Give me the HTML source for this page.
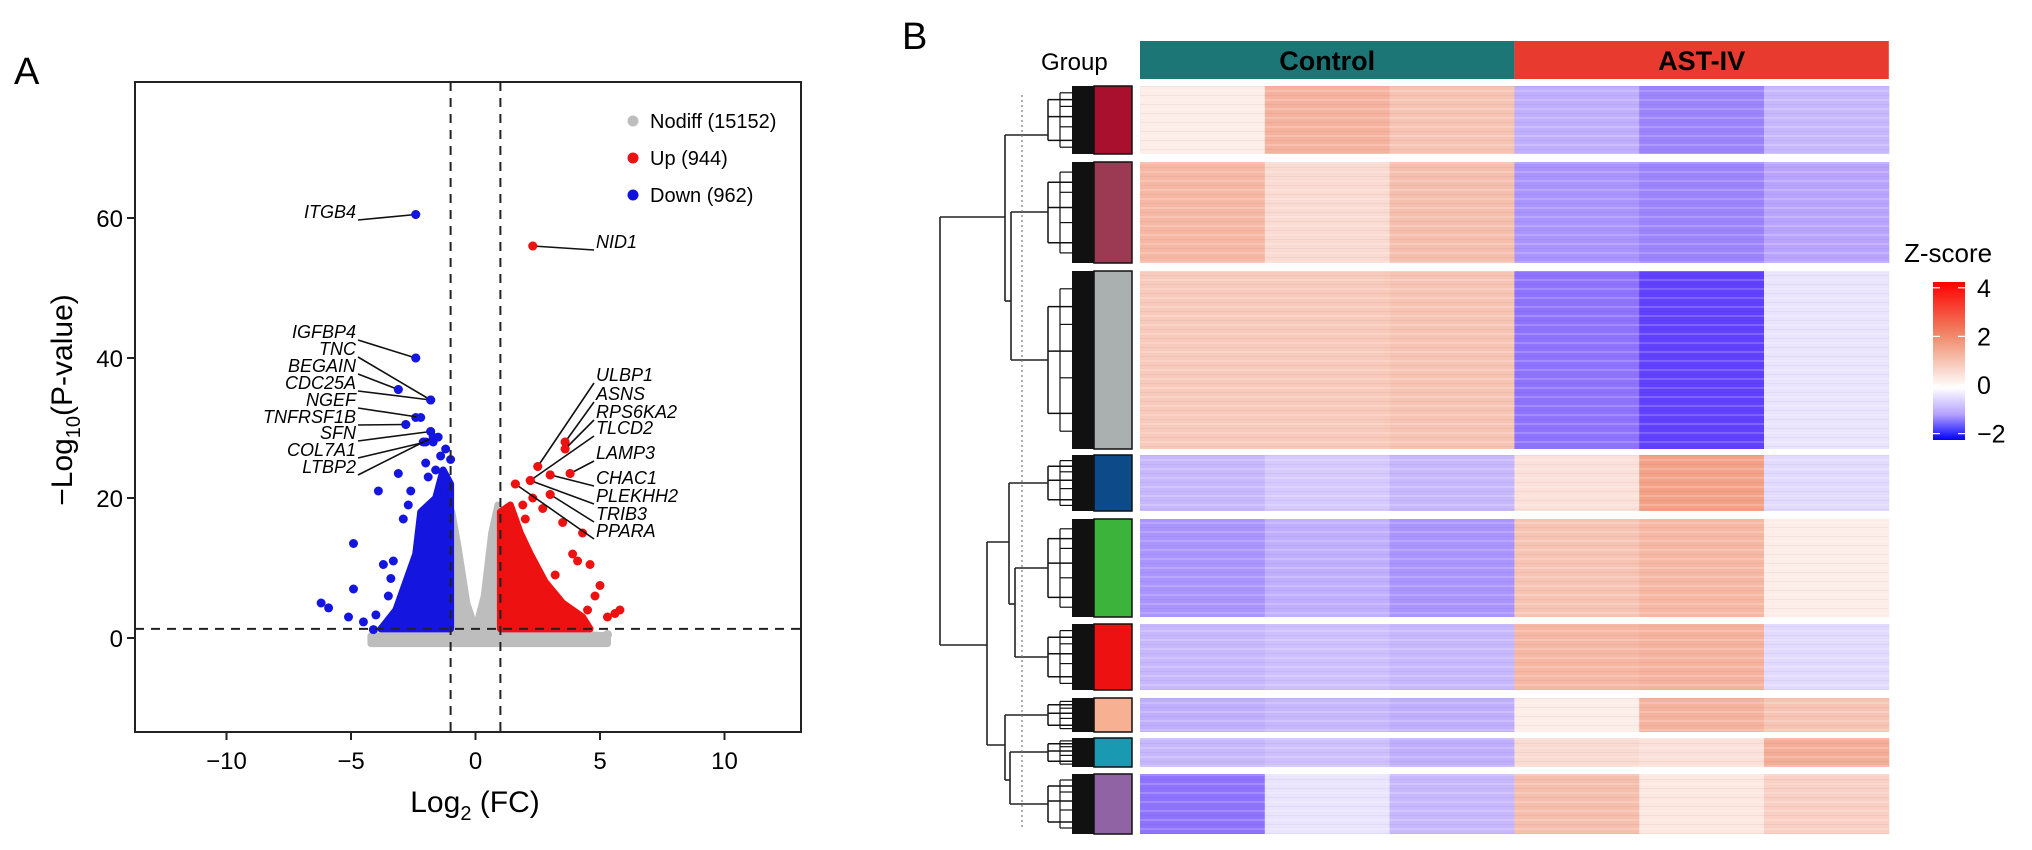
<!DOCTYPE html>
<html><head><meta charset="utf-8">
<style>
html,body{margin:0;padding:0;background:#fff;}
svg{display:block;font-family:"Liberation Sans",sans-serif;}
</style></head>
<body>
<svg id="fig" width="2032" height="850" viewBox="0 0 2032 850" xmlns="http://www.w3.org/2000/svg">
<defs>
<linearGradient id="zgrad" x1="0" y1="1" x2="0" y2="0">
<stop offset="0" stop-color="#0000ff"/><stop offset="0.16" stop-color="#b4a0ff"/><stop offset="0.33" stop-color="#ffffff"/><stop offset="0.66" stop-color="#f08a6a"/><stop offset="1" stop-color="#ff0000"/>
</linearGradient>
<pattern id="stripes" width="4" height="9" patternUnits="userSpaceOnUse"><rect x="0" y="0" width="4" height="2" fill="#fff" opacity="0.18"/><rect x="0" y="5" width="4" height="1" fill="#000" opacity="0.04"/></pattern>
</defs>
<g id="panelA"></g>
<g id="panelB"></g>
</svg>
<script>
// ---------- Volcano data ----------
const xTicks = [-10, -5, 0, 5, 10];
const yTicks = [0, 20, 40, 60];
const grayCloud = [[-4.2,0.3],[-1.0,0.3],[-0.95,18],[-0.7,13],[-0.35,5],[0,1.2],[0.35,6],[0.65,15],[0.9,19],[1.0,1.3],[5.3,0.3],[5.3,-0.8],[-4.2,-0.8]];
const blueCloud = [[-1.0,1.3],[-1.0,22],[-1.3,24],[-1.6,20],[-2.2,18],[-2.4,12],[-2.8,8],[-3.2,4],[-3.8,1.3]];
const redCloud = [[1.0,1.3],[1.0,18],[1.4,19],[1.8,15],[2.2,12],[2.8,8],[3.5,5],[4.3,3],[4.6,1.3]];
const blueX = [-6.2,-5.9,-4.9,-5.1,-4.9,-4.5,-4.0,-4.1,-3.9,-3.7,-3.4,-3.1,-2.9,-3.5,-2.6,-2.4,-3.1,-1.8,-2.4,-2.8,-1.8,-1.7,-2.1,-1.5,-1.0,-2.4,-1.6,-2.0,-2.7,-3.3,-1.2,-1.4,-1.9];
const blueY = [5,4.3,13.5,3,7,2.3,3.3,1.2,21,10.5,8.5,23.5,17,6,21,40,35.5,34,31.5,30.5,29.5,28,28,28.7,25.5,60.5,24,25,19,11,27,26,23];
const redX = [2.3,1.6,2.2,2.5,3.6,3.6,3.0,3.8,3.0,2.7,3.5,4.3,4.1,4.6,5.0,5.8,5.6,5.3,4.5,3.9,1.9,2.3,3.2,4.8,2.0];
const redY = [56,22,22.5,24.5,28,27,23.3,23.5,20.5,18.5,16.5,15,11,10.5,7.5,4,3.5,3,4,12,19,20,9,6,17];
const leftGenes = ["IGFBP4","TNC","BEGAIN","CDC25A","NGEF","TNFRSF1B","SFN","COL7A1","LTBP2"];
const leftGeneX = [-2.4,-1.8,-3.1,-1.8,-2.2,-2.8,-1.8,-2.0,-1.7];
const leftGeneY = [40,34,35.5,34,31.5,30.5,29.5,28,28.7];
const rightGenes = ["ULBP1","ASNS","RPS6KA2","TLCD2","LAMP3","CHAC1","PLEKHH2","TRIB3","PPARA"];
const rightGeneX = [2.5,3.6,3.6,2.2,3.8,3.0,2.2,3.0,1.6];
const rightGeneY = [24.5,28,27,22.5,23.5,23.3,22.5,20.5,22];
const legendLabels = ["Nodiff (15152)","Up (944)","Down (962)"];
const legendColors = ["#bdbdbd","#ee1111","#1111dd"];

// ---------- Heatmap data ----------
const columns = ["C1","C2","C3","A1","A2","A3"];
const groups = ["Control","AST-IV"];
const clusterColors = ["#a8102e","#9b3a52","#aab0b0","#0c4a8a","#3cb43c","#ee1111","#f8b092","#1a9ab2","#9064a4"];
const clusterZ = [
 [0.3,1.3,1.0,-0.9,-1.2,-0.8],
 [1.2,0.6,1.1,-1.1,-1.2,-1.0],
 [0.9,0.9,1.0,-1.3,-1.6,-0.3],
 [-0.8,-0.6,-0.8,0.5,1.6,-0.4],
 [-1.1,-0.9,-1.1,1.0,1.2,0.3],
 [-0.8,-0.7,-0.8,1.2,1.3,-0.4],
 [-0.9,-0.8,-0.9,0.3,1.3,1.0],
 [-0.8,-0.7,-0.9,0.6,0.5,1.4],
 [-1.3,-0.3,-0.8,1.1,0.4,0.8]];
const zTicks = [4,2,0,-2];

const NS="http://www.w3.org/2000/svg";
function mk(parent,tag,attrs,text){const e=document.createElementNS(NS,tag);for(const k in attrs)e.setAttribute(k,attrs[k]);if(text!==undefined)e.textContent=text;parent.appendChild(e);return e;}

// ---------- Panel A ----------
const A=document.getElementById('panelA');
const X=v=>475.5+24.9*v, Y=v=>638-7.0*v;
let t=mk(A,'text',{x:14,y:84,'font-size':38},'A');


function poly(pts,fill,name){const p=mk(A,'polygon',{points:pts.map(q=>X(q[0])+','+Y(q[1])).join(' '),fill:fill,stroke:fill,'stroke-width':7,'stroke-linejoin':'round'});

}
poly(grayCloud,'#bdbdbd','nodiff-cloud');
poly(blueCloud,'#1515e0','down-cloud');
poly(redCloud,'#ee1111','up-cloud');
blueX.forEach((v,i)=>{const c=mk(A,'circle',{cx:X(v),cy:Y(blueY[i]),r:4.5,fill:'#1515e0'});

});
redX.forEach((v,i)=>{const c=mk(A,'circle',{cx:X(v),cy:Y(redY[i]),r:4.5,fill:'#ee1111'});

});
mk(A,'circle',{cx:X(5.3),cy:Y(0.5),r:4.5,fill:'#bdbdbd'});
[[X(-1),82,X(-1),732],[X(1),82,X(1),732],[135,Y(1.3),801,Y(1.3)]].forEach(l=>{const e=mk(A,'line',{x1:l[0],y1:l[1],x2:l[2],y2:l[3],stroke:'#222','stroke-width':2,'stroke-dasharray':'9,7'});

});
function glabel(name,tx,ty,px,py,anchor,lx){const tt=mk(A,'text',{x:tx,y:ty+6,'font-size':18,'font-style':'italic','text-anchor':anchor},name);


mk(A,'line',{x1:lx,y1:ty+8,x2:px,y2:py,stroke:'#111','stroke-width':1.6});
mk(A,'circle',{cx:px,cy:py,r:4.5,fill:anchor==='end'?'#1515e0':'#ee1111'});}
glabel('ITGB4',356,212,X(-2.4),Y(60.5),'end',358);
glabel('NID1',596,242,X(2.3),Y(56),'start',594);
const ly=[332,349,366,383,400,417,433,450,467];
leftGenes.forEach((g,i)=>glabel(g,356,ly[i],X(leftGeneX[i]),Y(leftGeneY[i]),'end',358));
const ry=[375,394,412,428,453,478,496,514,531];
rightGenes.forEach((g,i)=>glabel(g,596,ry[i],X(rightGeneX[i]),Y(rightGeneY[i]),'start',594));
let fr=mk(A,'rect',{x:135,y:82,width:666,height:650,fill:'none',stroke:'#222','stroke-width':2});


xTicks.forEach(v=>{mk(A,'line',{x1:X(v),y1:732,x2:X(v),y2:740,stroke:'#222','stroke-width':2});
const e=mk(A,'text',{x:X(v),y:769,'font-size':24,'text-anchor':'middle'},(v<0?'\u2212':'')+Math.abs(v));

});
yTicks.forEach(v=>{mk(A,'line',{x1:127,y1:Y(v),x2:135,y2:Y(v),stroke:'#222','stroke-width':2});
const e=mk(A,'text',{x:123,y:Y(v)+9,'font-size':24,'text-anchor':'end'},v);

});
let xt=mk(A,'text',{x:475,y:812,'font-size':30,'text-anchor':'middle'});
xt.innerHTML='Log<tspan font-size="20" dy="8">2</tspan><tspan dy="-8"> (FC)</tspan>';


let yt=mk(A,'text',{transform:'translate(72,400) rotate(-90)','font-size':30,'text-anchor':'middle'});
yt.innerHTML='\u2212Log<tspan font-size="20" dy="8">10</tspan><tspan dy="-8">(P-value)</tspan>';


const legY=[121,158,195];
legendLabels.forEach((l,i)=>{const c=mk(A,'circle',{cx:633,cy:legY[i],r:5.5,fill:legendColors[i]});


const e=mk(A,'text',{x:650,y:legY[i]+7,'font-size':20},l);

});

// ---------- Panel B ----------
const B=document.getElementById('panelB');
t=mk(B,'text',{x:902,y:49,'font-size':38},'B');


t=mk(B,'text',{x:1041,y:70,'font-size':24},'Group');


const colX0=1140, colW=124.8;
const grpColors=['#1d7676','#e83a2e'];
groups.forEach((g,i)=>{const r=mk(B,'rect',{x:colX0+i*3*colW,y:41,width:3*colW,height:38,fill:grpColors[i]});


const e=mk(B,'text',{x:colX0+i*3*colW+1.5*colW,y:70,'font-size':27,'font-weight':'bold','text-anchor':'middle'},g);

});
const cTop=[86,162,271,455,519,624,698,738,774], cBot=[154,263,449,511,617,690,732,767,834];
function lerp(a,b,f){return [a[0]+(b[0]-a[0])*f,a[1]+(b[1]-a[1])*f,a[2]+(b[2]-a[2])*f];}
function zcol(z){let c;
if(z<=-1){c=lerp([185,165,255],[40,0,255],Math.min(1,(-z-1)));}
else if(z<0){c=lerp([255,255,255],[185,165,255],-z);}
else if(z<2){c=lerp([255,255,255],[240,138,106],z/2);}
else{c=lerp([240,138,106],[255,0,0],Math.min(1,(z-2)/2));}
return `rgb(${c[0]|0},${c[1]|0},${c[2]|0})`;}
clusterZ.forEach((row,ci)=>{
 row.forEach((z,j)=>{const r=mk(B,'rect',{x:colX0+j*colW,y:cTop[ci],width:colW+0.5,height:cBot[ci]-cTop[ci],fill:zcol(z)});
 
 });
 mk(B,'rect',{x:colX0,y:cTop[ci],width:6*colW,height:cBot[ci]-cTop[ci],fill:'url(#stripes)'});
 const s=mk(B,'rect',{x:1094,y:cTop[ci],width:38,height:cBot[ci]-cTop[ci],fill:clusterColors[ci],stroke:'#111','stroke-width':1.5});
 
 
 mk(B,'rect',{x:1072,y:cTop[ci],width:22,height:cBot[ci]-cTop[ci],fill:'#111'});
 const lx=1048, h=cBot[ci]-cTop[ci];
 mk(B,'line',{x1:lx,y1:cTop[ci]+h*0.2,x2:lx,y2:cTop[ci]+h*0.8,stroke:'#111','stroke-width':1.5});
 [0.2,0.45,0.8].forEach(f=>mk(B,'line',{x1:lx,y1:cTop[ci]+h*f,x2:1072,y2:cTop[ci]+h*f,stroke:'#111','stroke-width':1.5}));
 mk(B,'line',{x1:1060,y1:cTop[ci]+h*0.1,x2:1060,y2:cTop[ci]+h*0.9,stroke:'#111','stroke-width':1.2});
 [0.1,0.3,0.6,0.9].forEach(f=>mk(B,'line',{x1:1060,y1:cTop[ci]+h*f,x2:1072,y2:cTop[ci]+h*f,stroke:'#111','stroke-width':1.2}));
});
const seg=[[940,217,940,645],[940,217,1005,217],[940,645,987,645],
[1005,135,1005,301],[1005,135,1048,135],[1005,301,1011,301],[1011,212,1011,360],[1011,212,1048,212],[1011,360,1048,360],
[987,542,987,745],[987,542,1009,542],[1009,483,1009,604],[1009,483,1048,483],[1009,604,1015,604],[1015,568,1015,657],[1015,568,1048,568],[1015,657,1048,657],
[987,745,1005,745],[1005,715,1005,780],[1005,715,1048,715],[1005,780,1010,780],[1010,752,1010,804],[1010,752,1048,752],[1010,804,1048,804]];
seg.forEach(s=>{const e=mk(B,'line',{x1:s[0],y1:s[1],x2:s[2],y2:s[3],stroke:'#222','stroke-width':1.6});

});
mk(B,'line',{x1:1022,y1:95,x2:1022,y2:827,stroke:'#777','stroke-width':1.2,'stroke-dasharray':'2,3'});
t=mk(B,'text',{x:1904,y:262,'font-size':26},'Z-score');


const cb=mk(B,'rect',{x:1933,y:282,width:32,height:158,fill:'url(#zgrad)'});


const zY=v=>385-24.3*v;
zTicks.forEach(v=>{mk(B,'line',{x1:1933,y1:zY(v),x2:1940,y2:zY(v),stroke:'#fff','stroke-width':1.2});
mk(B,'line',{x1:1958,y1:zY(v),x2:1965,y2:zY(v),stroke:'#fff','stroke-width':1.2});
const e=mk(B,'text',{x:1977,y:zY(v)+9,'font-size':25},(v<0?'\u2212':'')+Math.abs(v));

});
</script>
</body></html>
